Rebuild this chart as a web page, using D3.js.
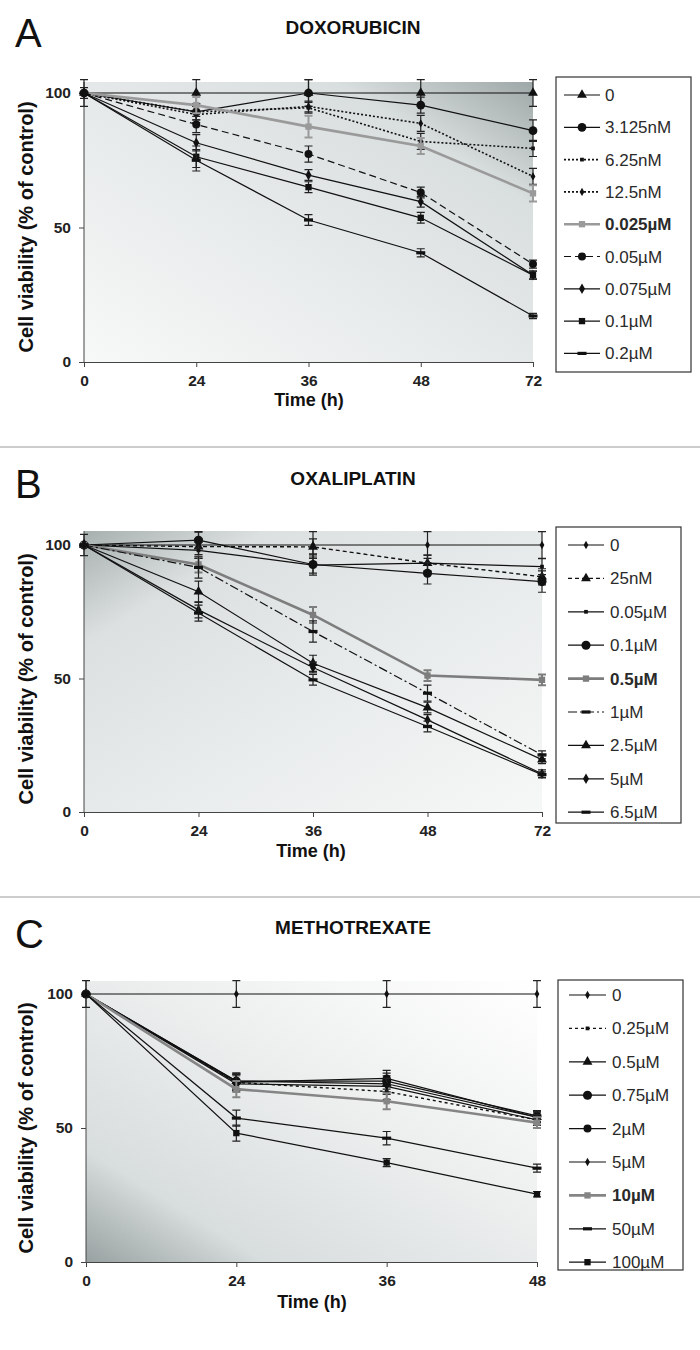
<!DOCTYPE html>
<html><head><meta charset="utf-8">
<script src="https://cdnjs.cloudflare.com/ajax/libs/d3/7.8.5/d3.min.js"></script>
<style>body{margin:0;background:#fff}svg{display:block;font-family:Arial,"Liberation Sans",sans-serif}</style>
</head><body><svg id="c" width="700" height="1350"></svg>
<script>
// ---------- DATA ----------
const timesA = ["0","24","36","48","72"];
const labelsA = ["0","3.125nM","6.25nM","12.5nM","0.025µM","0.05µM","0.075µM","0.1µM","0.2µM"];
const valuesA = [
  [100,100,100,100,100],
  [100,93,100,95.5,86],
  [100,93,94.5,82,79.4],
  [100,92,95,88.7,69],
  [100,95.5,87.5,80.3,62.7],
  [100,88.3,77.3,63,36.4],
  [100,81.5,69.5,59.6,32.3],
  [100,76.3,65,53.6,32.3],
  [100,75,52.8,40.6,17.1]
];
const errorsA = [
  [5,5,5,5,5],[2,3,5,3,4],[0,3,2,3,3],[0,3,2,3,3],[0,3,4,3,3],
  [0,3,3,2,1.5],[0,3,2,2,1.5],[0,4,2,2,1.5],[0,4,2,1.5,1]
];
const timesB = ["0","24","36","48","72"];
const labelsB = ["0","25nM","0.05µM","0.1µM","0.5µM","1µM","2.5µM","5µM","6.5µM"];
const valuesB = [
  [100,100,100,100,100],
  [100,99.4,99.3,93.2,88.1],
  [100,98,92.5,93.2,91.9],
  [100,101.8,92.7,89.4,86.3],
  [100,92.7,73.8,51.1,49.5],
  [100,91.6,67.6,44.5,21.4],
  [100,82.5,55.7,39.1,19.6],
  [100,75.7,54.1,34.5,14.3],
  [100,74.5,49.5,32,14]
];
const errorsB = [
  [4,5,5,5,5],[0,3,3,3,3],[0,3,3,3,3],[0,3,4,4,4],[0,3,3,2,2],
  [0,4,4,3,1.5],[0,4,3,2,1.5],[0,3,2,2,1.5],[0,3,2,2,1]
];
const timesC = ["0","24","36","48"];
const labelsC = ["0","0.25µM","0.5µM","0.75µM","2µM","5µM","10µM","50µM","100µM"];
const valuesC = [
  [100,100,100,100],
  [100,67,63.6,53],
  [100,67.5,66.5,54],
  [100,67.5,67.5,54.5],
  [100,67,68.5,54],
  [100,66.5,65.5,53],
  [100,64.5,60,52],
  [100,53.7,46.2,35],
  [100,48.1,37.1,25.3]
];
const errorsC = [
  [5,5,5,5],[0,3,3,2],[0,3,3,2],[0,3,3,2],[0,3,3,2],
  [0,3,3,2],[0,3,3,2],[0,3,2.5,1.5],[0,3,1.5,1]
];
const yTicks = [0,50,100];

// ---------- STYLES (per series) ----------
const stylesA = [
  {m:"triangle",c:"#111",w:1.2,d:null},
  {m:"circle",c:"#111",w:1.2,d:null,ms:1.2},
  {m:"smallsquare",c:"#111",w:1.6,d:"2,2"},
  {m:"smalldiamond",c:"#111",w:1.6,d:"2,2"},
  {m:"square",c:"#9a9a9a",w:2.6,d:null,bold:true},
  {m:"circle",c:"#111",w:1.2,d:"7,4"},
  {m:"diamond",c:"#111",w:1.2,d:null},
  {m:"square",c:"#111",w:1.2,d:null},
  {m:"dash",c:"#111",w:1.2,d:null}
];
const stylesB = [
  {m:"smalldiamond",c:"#111",w:1.2,d:null},
  {m:"triangle",c:"#111",w:1.4,d:"4,3"},
  {m:"smallsquare",c:"#111",w:1.2,d:null},
  {m:"circle",c:"#111",w:1.2,d:null,ms:1.3},
  {m:"star",c:"#7d7d7d",w:2.6,d:null,bold:true},
  {m:"dash",c:"#111",w:1.2,d:"9,3,2,3"},
  {m:"triangle",c:"#111",w:1.2,d:null},
  {m:"diamond",c:"#111",w:1.2,d:null},
  {m:"dash",c:"#111",w:1.2,d:null}
];
const stylesC = [
  {m:"smalldiamond",c:"#111",w:1.2,d:null},
  {m:"smallsquare",c:"#111",w:1.4,d:"3,3"},
  {m:"triangle",c:"#111",w:1.2,d:null},
  {m:"circle",c:"#111",w:1.2,d:null,ms:1.3},
  {m:"circle",c:"#111",w:1.2,d:null},
  {m:"smalldiamond",c:"#111",w:1.2,d:null},
  {m:"square",c:"#858585",w:2.6,d:null,bold:true},
  {m:"dash",c:"#111",w:1.2,d:null},
  {m:"square",c:"#111",w:1.2,d:null}
];

const svg = d3.select("#c");
const defs = svg.append("defs");

function markerPath(type, s) {
  s = s || 1;
  switch (type) {
    case "triangle": return d3.symbol(d3.symbolTriangle, 42*s)();
    case "circle": return d3.symbol(d3.symbolCircle, 50*s)();
    case "square": return d3.symbol(d3.symbolSquare, 40*s)();
    case "smallsquare": return d3.symbol(d3.symbolSquare, 14*s)();
    case "diamond": return d3.symbol(d3.symbolDiamond, 32*s)();
    case "smalldiamond": return d3.symbol(d3.symbolDiamond, 20*s)();
    case "star": return d3.symbol(d3.symbolSquare, 40*s)();
    case "dash": return "M-4.5,-1.6H4.5V1.6H-4.5Z";
  }
}

function drawPanel(cfg) {
  const {times, labels, values, errors, styles, L, R, Ytop, Y0, Y100, grad, id} = cfg;
  const x = d3.scalePoint().domain(times).range([L, R]).padding(0);
  const y = d3.scaleLinear().domain([0,100]).range([Y0, Y100]);

  const g = defs.append("linearGradient").attr("id", id)
    .attr("x1", grad[0]).attr("y1", grad[1]).attr("x2", grad[2]).attr("y2", grad[3]);
  grad[4].forEach(st => g.append("stop").attr("offset", st[0]).attr("stop-color", st[1]));
  svg.append("rect").attr("x", L).attr("y", Ytop).attr("width", R - L).attr("height", Y0 - Ytop)
    .attr("fill", `url(#${id})`);

  const ya = svg.append("g").attr("transform", `translate(${L},0)`)
    .call(d3.axisLeft(y).tickValues(yTicks).tickSize(5).tickSizeOuter(0));
  ya.select(".domain").attr("stroke", "#444").attr("d", `M0,${Y0}V${Ytop}`);
  ya.selectAll("line").attr("stroke", "#444");
  ya.selectAll("text").attr("font-size", 15.5).attr("font-weight", "bold").attr("fill", "#222").attr("x", -13);
  const xa = svg.append("g").attr("transform", `translate(0,${Y0})`)
    .call(d3.axisBottom(x).tickSize(5).tickSizeOuter(0));
  xa.select(".domain").attr("stroke", "#444");
  xa.selectAll("line").attr("stroke", "#444");
  xa.selectAll("text").attr("font-size", 15.5).attr("font-weight", "bold").attr("fill", "#222")
    .attr("dy", null).attr("y", 24);

  const line = d3.line().x((d,i) => x(times[i])).y(d => y(d));
  values.forEach((vals, si) => {
    const st = styles[si];
    const gg = svg.append("g");
    gg.append("path").attr("d", line(vals)).attr("fill", "none")
      .attr("stroke", st.c).attr("stroke-width", st.w)
      .attr("stroke-dasharray", st.d);
    vals.forEach((v, i) => {
      const e = errors[si][i];
      if (e > 0) {
        const cx = x(times[i]);
        const ec = st.bold ? st.c : "#222";
        const ew = st.bold ? 2 : 1.2;
        gg.append("path").attr("d", `M${cx},${y(v+e)}V${y(v-e)}M${cx-4},${y(v+e)}H${cx+4}M${cx-4},${y(v-e)}H${cx+4}`)
          .attr("stroke", ec).attr("stroke-width", ew).attr("fill", "none");
      }
    });
    gg.selectAll("path.mk").data(vals).join("path").attr("class", "mk")
      .attr("transform", (d,i) => `translate(${x(times[i])},${y(d)})`)
      .attr("d", markerPath(st.m, st.ms)).attr("fill", st.c);
  });
  return {x, y};
}

function legend(cfg) {
  const {labels, styles, bx, by, bw, bh, rowY0, rowStep, lx0, lx1, tx} = cfg;
  svg.append("rect").attr("x", bx).attr("y", by).attr("width", bw).attr("height", bh)
    .attr("fill", "#fff").attr("stroke", "#333").attr("stroke-width", 1.2);
  labels.forEach((lab, i) => {
    const st = styles[i];
    const yy = rowY0 + i * rowStep;
    svg.append("line").attr("x1", lx0).attr("x2", lx1).attr("y1", yy).attr("y2", yy)
      .attr("stroke", st.c).attr("stroke-width", st.w).attr("stroke-dasharray", st.d);
    svg.append("path").attr("transform", `translate(${(lx0+lx1)/2},${yy})`)
      .attr("d", markerPath(st.m, st.ms)).attr("fill", st.c);
    svg.append("text").attr("x", tx).attr("y", yy + 6).text(lab)
      .attr("font-size", 17).attr("fill", "#2a2a2a")
      .attr("font-weight", st.bold ? "bold" : "normal");
  });
}

function labels(cfg) {
  const {letter, title, ly, ty, ycx, ycy, xlx, xly} = cfg;
  svg.append("text").attr("x", 15).attr("y", ly).text(letter).attr("font-size", 40).attr("fill", "#111");
  svg.append("text").attr("x", 353).attr("y", ty).text(title).attr("font-size", 19)
    .attr("font-weight", "bold").attr("text-anchor", "middle").attr("fill", "#111");
  svg.append("text").attr("transform", `translate(${ycx},${ycy}) rotate(-90)`).text("Cell viability (% of control)")
    .attr("font-size", 20).attr("font-weight", "bold").attr("text-anchor", "middle").attr("fill", "#111");
  svg.append("text").attr("x", xlx).attr("y", xly).text("Time (h)").attr("font-size", 18)
    .attr("font-weight", "bold").attr("text-anchor", "middle").attr("fill", "#111");
}

[447, 897].forEach(yy => svg.append("line").attr("x1", 0).attr("x2", 700).attr("y1", yy).attr("y2", yy)
  .attr("stroke", "#9a9a9a").attr("stroke-width", 1));

// Panel A
labels({letter:"A", title:"DOXORUBICIN", ly:47, ty:34, ycx:33, ycy:227, xlx:309, xly:406});
drawPanel({id:"gA", times:timesA, labels:labelsA, values:valuesA, errors:errorsA, styles:stylesA,
  L:84, R:533, Ytop:82, Y0:362, Y100:93,
  grad:["100%","0%","0%","100%",[[0,"#9ea7a7"],[0.22,"#d9dede"],[0.6,"#e9ecec"],[1,"#f7f8f8"]]]});
legend({labels:labelsA, styles:stylesA, bx:556, by:77, bw:135, bh:295, rowY0:95, rowStep:32.3, lx0:564, lx1:600, tx:605});

// Panel B
labels({letter:"B", title:"OXALIPLATIN", ly:498, ty:485, ycx:33, ycy:679, xlx:311, xly:857});
drawPanel({id:"gB", times:timesB, labels:labelsB, values:valuesB, errors:errorsB, styles:stylesB,
  L:84, R:542, Ytop:531, Y0:812, Y100:545,
  grad:["0%","0%","100%","100%",[[0,"#a7afaf"],[0.2,"#dce0e0"],[0.6,"#eaeded"],[1,"#f6f7f7"]]]});
legend({labels:labelsB, styles:stylesB, bx:556, by:527, bw:125, bh:296, rowY0:545, rowStep:33.4, lx0:568, lx1:604, tx:610});

// Panel C
labels({letter:"C", title:"METHOTREXATE", ly:948, ty:934, ycx:33, ycy:1128, xlx:312, xly:1308});
drawPanel({id:"gC", times:timesC, labels:labelsC, values:valuesC, errors:errorsC, styles:stylesC,
  L:86, R:537, Ytop:981, Y0:1262, Y100:994,
  grad:["0%","100%","100%","0%",[[0,"#98a1a1"],[0.2,"#d8dddd"],[0.55,"#eceeee"],[1,"#ffffff"]]]});
legend({labels:labelsC, styles:stylesC, bx:558, by:980, bw:125, bh:290, rowY0:995, rowStep:33.4, lx0:569, lx1:606, tx:612});
</script></body></html>
